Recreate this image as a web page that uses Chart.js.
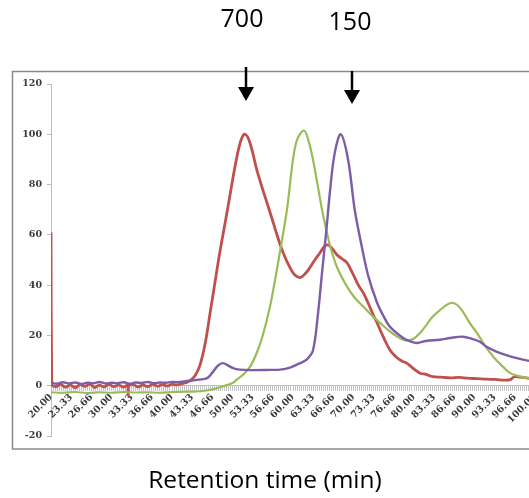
<!DOCTYPE html>
<html><head><meta charset="utf-8">
<script src="https://cdn.jsdelivr.net/npm/chart.js@4.4.1/dist/chart.umd.min.js"></script>
<style>
html,body{margin:0;padding:0;overflow:hidden;background:#fff;width:529px;height:498px;}
#wrap{position:relative;width:529px;height:498px;overflow:hidden;}
canvas{position:absolute;left:0;top:0;}
</style></head><body>
<div id="wrap"><canvas id="c" width="545" height="498"></canvas></div>
<script>
// ---- data (retention time in min, signal) ----
const redTime = [20,20.12,20.8,21.6,22.4,23.2,24,24.8,25.6,26.4,27.2,28,28.8,29.6,30.4,31.2,32,32.7,32.75,32.8,33.6,34.4,35.2,36,36.8,37.6,38.4,39.2,40,40.8,41.6,42.3,43.0,43.8,44.6,45.5,46.3,47.1,47.9,48.8,49.6,50.4,51.2,51.9,52.5,53.2,54.0,55.0,56.2,57.1,57.9,58.7,59.5,60.3,61.2,62.0,62.8,63.6,64.5,65.2,65.8,66.5,67.3,68.1,68.9,69.8,70.8,71.6,72.4,73.2,73.9,75.0,76.0,77.0,78.0,78.8,79.8,81.0,82.0,83.1,84.5,86,87.5,88.8,90.5,92,93.5,95.0,95.9,96.6,97.5,98.8,100];
const redSignal = [61,0.6,-0.4,0.5,-0.6,0.3,-0.8,0.4,-0.3,0.6,-0.7,0.2,-0.5,0.5,-0.4,0.3,-0.6,0.2,-3.8,-0.2,0.4,-0.5,0.3,-0.4,0.5,-0.2,0.4,-0.1,0.5,0.3,0.8,1.2,2,4,8,17,29,41,53,65,76,87,96,100,99,94,86,78,69,62,56,51,47,44,43,44.5,47,50,53,55.5,56,54.5,52,50.5,49,45,40,37,33,28.5,25,19,14.3,11.5,9.8,9,7,5,4.5,3.6,3.4,3.1,3.3,3,2.8,2.6,2.5,2.2,2.4,3.6,3.4,3,2.6];

const greenTime = [20,22,24,26,28,30,32,34,36,38,40,42,44,46,47.4,48.5,50.1,50.7,51.8,52.9,54,55,56.2,57.1,57.9,59,60,60.7,61.8,62.5,63.3,64.8,65.6,66.2,67.3,68.9,70.2,71.6,73,74.4,75.8,77.2,78.2,79.0,80,81.0,82,83.1,84.5,85.5,86.3,87.2,88.2,89.2,90.4,91.7,93.1,94.5,95.9,97.3,98.8,100];
const greenSignal = [-2.6,-2.8,-2.5,-2.9,-2.6,-2.8,-2.5,-2.7,-2.6,-2.8,-2.5,-2.4,-2.3,-1.8,-1.0,-0.2,1.2,2.4,4.5,7.5,13,20,31.5,43,54,70,90,98,101.5,98,90,70,61,55,47,39.5,35,31.5,28,25,22,19.5,18.3,18,18.8,21,24,27.5,30.5,32.3,33,32,29,25,21,16,11.5,8,5,3.8,3,2.5];

const purpleTime = [20,21,22,23,24,25,26,27,28,29,30,31,32,33,34,35,36,37,38,39,40,41,42,43,44.5,45.8,46.6,47.6,48.4,49.3,50.1,51.2,53,56.2,57.9,59.5,61.2,62.3,63.3,64.1,64.8,65.6,66.1,66.9,67.9,69.1,70.2,71.4,72.4,73.9,75.0,76.0,78.2,79.5,80.5,82,84.3,86,88.1,89.5,90.9,92,93.7,95.5,97,98.8,100];
const purpleSignal = [1.2,0.8,1.4,0.9,1.3,0.7,1.2,1.0,1.5,0.9,1.2,1.0,1.4,0.8,1.3,1.1,1.5,1.0,1.3,1.2,1.5,1.4,1.7,2.0,2.4,3,5,8,9,8,7,6.4,6.2,6.3,6.4,7.2,9,10.5,14,28,45,64,77,92.6,100,90,70,55,44,33,27.5,23.5,19,17.5,17,17.8,18.3,19,19.5,18.7,17.5,15.5,13.5,12,11,10,9.6];

const xTickLabels = ["20.00","23.33","26.66","30.00","33.33","36.66","40.00","43.33","46.66","50.00","53.33","56.66","60.00","63.33","66.66","70.00","73.33","76.66","80.00","83.33","86.66","90.00","93.33","96.66","100.00"];
const peakLabels = ["700","150"];
const peakTimes = [52.3, 69.8];
const xTitle = "Retention time (min)";

function pts(t, s){ return t.map((v,i)=>({x:v, y:s[i]})); }

const decor = {
  id:'decor',
  beforeDraw(chart){
    const ctx = chart.ctx;
    ctx.save();
    ctx.strokeStyle = '#8a8a8a';
    ctx.lineWidth = 1.5;
    ctx.strokeRect(12.5, 71.5, 560, 377.5);
    ctx.restore();
  },
  afterDraw(chart){
    const ctx = chart.ctx;
    const xs = chart.scales.x;
    ctx.save();
    ctx.fillStyle = '#000';
    ctx.font = '25px "Open Sans"';
    ctx.textAlign = 'center';
    ctx.textBaseline = 'alphabetic';
    ctx.fillText(peakLabels[0], 242, 27);
    ctx.fillText(peakLabels[1], 350, 30);
    ctx.font = '24.5px "Open Sans"';
    ctx.fillText(xTitle, 265, 488);
    const arrows = [[67, 101],[71, 104]];
    ctx.strokeStyle = '#000';
    ctx.lineWidth = 2.5;
    peakTimes.forEach((t,i)=>{
      const x = Math.round(xs.getPixelForValue(t));
      const [y0,y1] = arrows[i];
      ctx.beginPath(); ctx.moveTo(x, y0); ctx.lineTo(x, y1-12); ctx.stroke();
      ctx.beginPath(); ctx.moveTo(x-8, y1-14); ctx.lineTo(x+8, y1-14); ctx.lineTo(x, y1); ctx.closePath(); ctx.fill();
    });
    ctx.restore();
  }
};

const tickFont = {family:'"DejaVu Serif"', size:9.5, weight:'bold'};

new Chart(document.getElementById('c'), {
  type:'scatter',
  data:{ datasets:[
    {label:'red', data:pts(redTime, redSignal), showLine:true, borderColor:'#C0504D', borderWidth:2.8, pointRadius:0, tension:0.35, order:3},
    {label:'green', data:pts(greenTime, greenSignal), showLine:true, borderColor:'#9BBB59', borderWidth:2.2, pointRadius:0, tension:0.35, order:2},
    {label:'purple', data:pts(purpleTime, purpleSignal), showLine:true, borderColor:'#7B5EA7', borderWidth:2.4, pointRadius:0, tension:0.35, order:1}
  ]},
  options:{
    responsive:false, animation:false, devicePixelRatio:1,
    layout:{padding:{top:84, bottom:62, left:0, right:10}},
    plugins:{legend:{display:false}, tooltip:{enabled:false}},
    scales:{
      y:{ type:'linear', position:'left', min:-20, max:120,
        ticks:{stepSize:20, font:tickFont, color:'#3a3a3a', padding:5},
        grid:{drawOnChartArea:false, drawTicks:true, tickLength:4, color:'#bdbdbd'},
        border:{color:'#bdbdbd', width:1},
        afterFit(s){ s.width = 51; }
      },
      x:{ type:'linear', position:{y:0}, min:20, max:100,
        afterBuildTicks(s){ const t=[]; for(let i=0;i<=240;i++){ t.push({value:20+i/3}); } s.ticks=t; },
        ticks:{autoSkip:false, minRotation:45, maxRotation:45, font:tickFont, color:'#3a3a3a', padding:1,
          callback(v, i){ return i%10===0 ? xTickLabels[i/10] : ''; } },
        grid:{drawOnChartArea:false, drawTicks:true, tickLength:5, color:'#c4c4c4'},
        border:{color:'#bdbdbd', width:1},
        afterFit(s){ s.height = 0; }
      }
    }
  },
  plugins:[decor]
});
</script>
</body></html>
